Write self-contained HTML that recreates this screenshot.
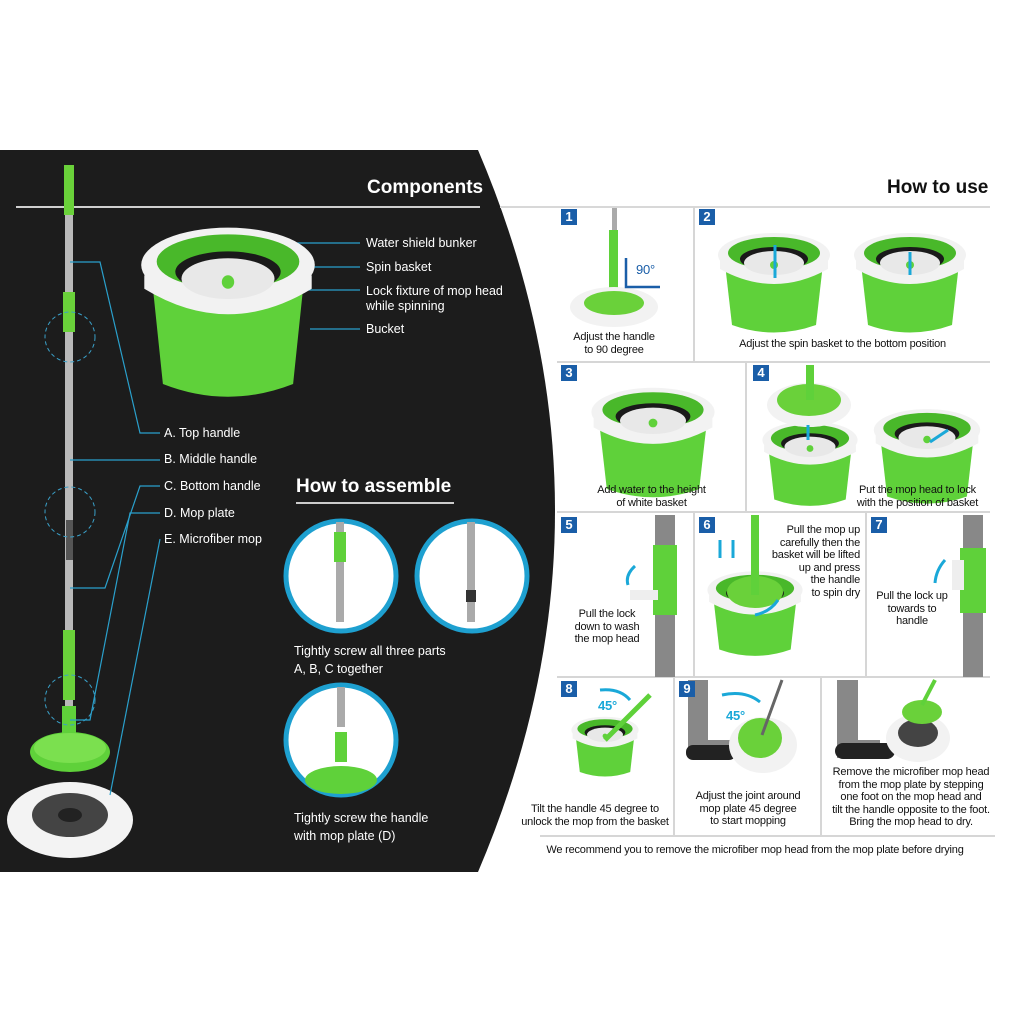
<!DOCTYPE html>
<html><head><meta charset="utf-8"><style>
body{margin:0;background:#fff;}
#c{position:relative;width:1024px;height:1024px;overflow:hidden;font-family:"Liberation Sans",Arial,sans-serif;}
.t{position:absolute;font-size:12.5px;color:#fff;white-space:nowrap;line-height:15px;}
.s{position:absolute;font-size:11px;color:#111;text-align:center;line-height:12.5px;letter-spacing:-0.2px;}
.n{position:absolute;width:16px;height:16px;background:#1a5ea8;color:#fff;font-weight:bold;font-size:13px;line-height:16px;text-align:center;}
</style></head><body><div id="c">
<svg width="1024" height="1024" style="position:absolute;left:0;top:0">
<defs>
<g id="bk">
<path d="M-50,0 L-42,70 Q0,85 42,70 L50,0 Z" fill="#5fd13a"/>
<ellipse cx="0" cy="0" rx="56" ry="22" fill="#f2f2f2"/>
<ellipse cx="0" cy="-2" rx="46" ry="16" fill="#49b82a"/>
<ellipse cx="0" cy="4" rx="34" ry="12" fill="#1a1a1a"/>
<ellipse cx="0" cy="8" rx="30" ry="12" fill="#e8e8e8"/>
<circle cx="0" cy="10" r="4" fill="#5fd13a"/>
<path d="M-54,6 Q0,36 54,6 L54,14 Q0,44 -54,14 Z" fill="#f2f2f2"/>
</g>
</defs>
<path d="M0,150 H478 Q632,511 478,872 H0 Z" fill="#1c1c1c"/>
<line x1="16" y1="207" x2="480" y2="207" stroke="#cfcfcf" stroke-width="2"/>
<line x1="500" y1="207" x2="990" y2="207" stroke="#d8d8d8" stroke-width="2"/>
<rect x="65" y="170" width="8" height="560" fill="#b9b9b9"/>
<rect x="64" y="165" width="10" height="50" fill="#6ad13a"/>
<rect x="63" y="292" width="12" height="40" fill="#6ad13a"/>
<rect x="66" y="520" width="7" height="40" fill="#555"/>
<rect x="63" y="630" width="12" height="70" fill="#6ad13a"/>
<rect x="62" y="706" width="14" height="30" fill="#5fd13a"/>
<circle cx="70" cy="337" r="25" fill="none" stroke="#3aa0c8" stroke-dasharray="4 3"/>
<circle cx="70" cy="512" r="25" fill="none" stroke="#3aa0c8" stroke-dasharray="4 3"/>
<circle cx="70" cy="700" r="25" fill="none" stroke="#3aa0c8" stroke-dasharray="4 3"/>
<ellipse cx="70" cy="752" rx="40" ry="20" fill="#5fd13a"/>
<ellipse cx="70" cy="748" rx="36" ry="15" fill="#7be04f"/>
<ellipse cx="70" cy="820" rx="63" ry="38" fill="#f3f3f3"/>
<ellipse cx="70" cy="815" rx="38" ry="22" fill="#444"/>
<ellipse cx="70" cy="815" rx="12" ry="7" fill="#222"/>
<g stroke="#2aa0cc" stroke-width="1.2" fill="none">
<path d="M70,262 H100 L140,433 H160"/>
<path d="M70,460 H160"/>
<path d="M70,588 H105 L140,486 H160"/>
<path d="M70,720 H90 L130,513 H160"/>
<path d="M110,795 L160,539"/>
<path d="M290,243 H360"/><path d="M230,283 L240,267 H360"/><path d="M230,318 L250,290 H360"/><path d="M310,329 H360"/>
</g>
<g transform="translate(228,265) scale(1.55,1.7)"><use href="#bk"/></g>
<g fill="#fff" stroke="#1ea0d0" stroke-width="5">
<circle cx="341" cy="576" r="55"/><circle cx="472" cy="576" r="55"/><circle cx="341" cy="740" r="55"/></g>
<rect x="336" y="522" width="8" height="100" fill="#aaa"/><rect x="334" y="532" width="12" height="30" fill="#5fd13a"/>
<rect x="467" y="522" width="8" height="100" fill="#aaa"/><rect x="466" y="590" width="10" height="12" fill="#333"/>
<rect x="337" y="687" width="8" height="40" fill="#aaa"/><rect x="335" y="732" width="12" height="30" fill="#5fd13a"/>
<ellipse cx="341" cy="780" rx="36" ry="14" fill="#5fd13a"/>
<g stroke="#d6d6d6" stroke-width="2">
<line x1="557" y1="362" x2="990" y2="362"/><line x1="557" y1="512" x2="990" y2="512"/>
<line x1="557" y1="677" x2="990" y2="677"/><line x1="540" y1="836" x2="995" y2="836"/>
<line x1="694" y1="207" x2="694" y2="362"/><line x1="746" y1="362" x2="746" y2="512"/>
<line x1="694" y1="512" x2="694" y2="677"/><line x1="866" y1="512" x2="866" y2="677"/>
<line x1="674" y1="677" x2="674" y2="836"/><line x1="821" y1="677" x2="821" y2="836"/>
</g>
<rect x="612" y="208" width="5" height="90" fill="#aaa"/><rect x="609" y="230" width="9" height="65" fill="#5fd13a"/>
<ellipse cx="614" cy="307" rx="44" ry="20" fill="#f2f2f2"/><ellipse cx="614" cy="303" rx="30" ry="12" fill="#6ad13a"/>
<path d="M626,258 V287 H660" stroke="#1a5ea8" stroke-width="2.5" fill="none"/>
<g transform="translate(774,255)"><use href="#bk"/></g>
<g transform="translate(910,255)"><use href="#bk"/></g>
<g transform="translate(653,412) scale(1.1)"><use href="#bk"/></g>
<g transform="translate(810,440) scale(0.85)"><use href="#bk"/></g>
<ellipse cx="809" cy="405" rx="42" ry="22" fill="#f2f2f2"/><ellipse cx="809" cy="400" rx="32" ry="16" fill="#6ad13a"/>
<rect x="806" y="365" width="8" height="35" fill="#5fd13a"/>
<g transform="translate(927,430) scale(0.95)"><use href="#bk"/></g>
<rect x="655" y="515" width="20" height="162" fill="#888"/><rect x="653" y="545" width="24" height="70" fill="#5fd13a"/>
<rect x="630" y="590" width="28" height="10" fill="#eee"/>
<g transform="translate(755,590) scale(0.85)"><use href="#bk"/></g>
<ellipse cx="755" cy="592" rx="28" ry="16" fill="#6ad13a"/>
<rect x="751" y="515" width="8" height="80" fill="#5fd13a"/>
<rect x="963" y="515" width="20" height="162" fill="#888"/><rect x="960" y="548" width="26" height="65" fill="#5fd13a"/>
<rect x="952" y="560" width="12" height="30" fill="#eee"/>
<g transform="translate(605,730) scale(0.6)"><use href="#bk"/></g>
<path d="M605,740 L650,695" stroke="#5fd13a" stroke-width="5"/>
<path d="M688,680 H708 V740 H730 V758 H688 Z" fill="#888"/>
<rect x="686" y="745" width="50" height="15" rx="7" fill="#222"/>
<ellipse cx="763" cy="745" rx="34" ry="28" fill="#f2f2f2"/><ellipse cx="760" cy="738" rx="22" ry="20" fill="#6ad13a"/>
<path d="M762,735 L782,680" stroke="#666" stroke-width="3"/>
<path d="M837,680 H858 V740 H880 V758 H837 Z" fill="#888"/>
<rect x="835" y="743" width="60" height="16" rx="8" fill="#222"/>
<ellipse cx="918" cy="738" rx="32" ry="24" fill="#f2f2f2"/><ellipse cx="918" cy="733" rx="20" ry="14" fill="#444"/>
<ellipse cx="922" cy="712" rx="20" ry="12" fill="#6ad13a"/>
<path d="M922,705 L935,680" stroke="#5fd13a" stroke-width="4"/>
<g stroke="#1aa8d8" stroke-width="3" fill="none">
<path d="M775,245 V278"/><path d="M910,275 V252"/><path d="M948,430 L930,442"/><path d="M808,440 V425"/>
<path d="M635,566 Q625,575 628,585"/><path d="M720,540 V558"/><path d="M733,540 V558"/><path d="M778,600 Q770,612 755,615"/>
<path d="M935,583 Q936,570 945,560"/><path d="M600,690 Q620,688 630,700"/><path d="M722,695 Q745,690 760,702"/>
</g>
</svg>
<div class="t" style="left:367px;top:177px;font-size:19px;font-weight:bold;line-height:22px;">Components</div>
<div class="t" style="left:887px;top:177px;font-size:19px;font-weight:bold;line-height:22px;color:#111">How to use</div>
<div class="t" style="left:296px;top:476px;font-size:19px;font-weight:bold;line-height:22px;">How to assemble</div>
<div style="position:absolute;left:296px;top:502px;width:158px;height:2px;background:#ccc"></div>
<div class="t" style="left:366px;top:236px">Water shield bunker</div>
<div class="t" style="left:366px;top:260px">Spin basket</div>
<div class="t" style="left:366px;top:284px">Lock fixture of mop head<br>while spinning</div>
<div class="t" style="left:366px;top:322px">Bucket</div>
<div class="t" style="left:164px;top:426px">A. Top handle</div>
<div class="t" style="left:164px;top:452px">B. Middle handle</div>
<div class="t" style="left:164px;top:479px">C. Bottom handle</div>
<div class="t" style="left:164px;top:506px">D. Mop plate</div>
<div class="t" style="left:164px;top:532px">E. Microfiber mop</div>
<div class="t" style="left:294px;top:642px;line-height:18px">Tightly screw all three parts<br>A, B, C together</div>
<div class="t" style="left:294px;top:809px;line-height:18px">Tightly screw the handle<br>with mop plate (D)</div>
<div class="n" style="left:561px;top:209px">1</div><div class="n" style="left:699px;top:209px">2</div>
<div class="n" style="left:561px;top:365px">3</div><div class="n" style="left:753px;top:365px">4</div>
<div class="n" style="left:561px;top:517px">5</div><div class="n" style="left:699px;top:517px">6</div><div class="n" style="left:871px;top:517px">7</div>
<div class="n" style="left:561px;top:681px">8</div><div class="n" style="left:679px;top:681px">9</div>
<div class="s" style="left:557px;top:331px;width:114px">Adjust the handle<br>to 90 degree</div>
<div class="s" style="left:636px;top:264px;color:#1a5ea8;font-size:13px">90°</div>
<div class="s" style="left:695px;top:338px;width:295px">Adjust the spin basket to the bottom position</div>
<div class="s" style="left:557px;top:484px;width:189px">Add water to the height<br>of white basket</div>
<div class="s" style="left:840px;top:484px;width:155px">Put the mop head to lock<br>with the position of basket</div>
<div class="s" style="left:557px;top:608px;width:100px">Pull the lock<br>down to wash<br>the mop head</div>
<div class="s" style="left:750px;top:524px;width:110px;text-align:right">Pull the mop up<br>carefully then the<br>basket will be lifted<br>up and press<br>the handle<br>to spin dry</div>
<div class="s" style="left:866px;top:590px;width:92px">Pull the lock up<br>towards to<br>handle</div>
<div class="s" style="left:598px;top:700px;color:#1aa8d8;font-size:13px;font-weight:bold">45°</div>
<div class="s" style="left:726px;top:710px;color:#1aa8d8;font-size:13px;font-weight:bold">45°</div>
<div class="s" style="left:510px;top:803px;width:170px">Tilt the handle 45 degree to<br>unlock the mop from the basket</div>
<div class="s" style="left:675px;top:790px;width:146px">Adjust the joint around<br>mop plate 45 degree<br>to start mopping</div>
<div class="s" style="left:821px;top:766px;width:180px">Remove the microfiber mop head<br>from the mop plate by stepping<br>one foot on the mop head and<br>tilt the handle opposite to the foot.<br>Bring the mop head to dry.</div>
<div class="s" style="left:520px;top:844px;width:470px">We recommend you to remove the microfiber mop head from the mop plate before drying</div>
</div></body></html>
